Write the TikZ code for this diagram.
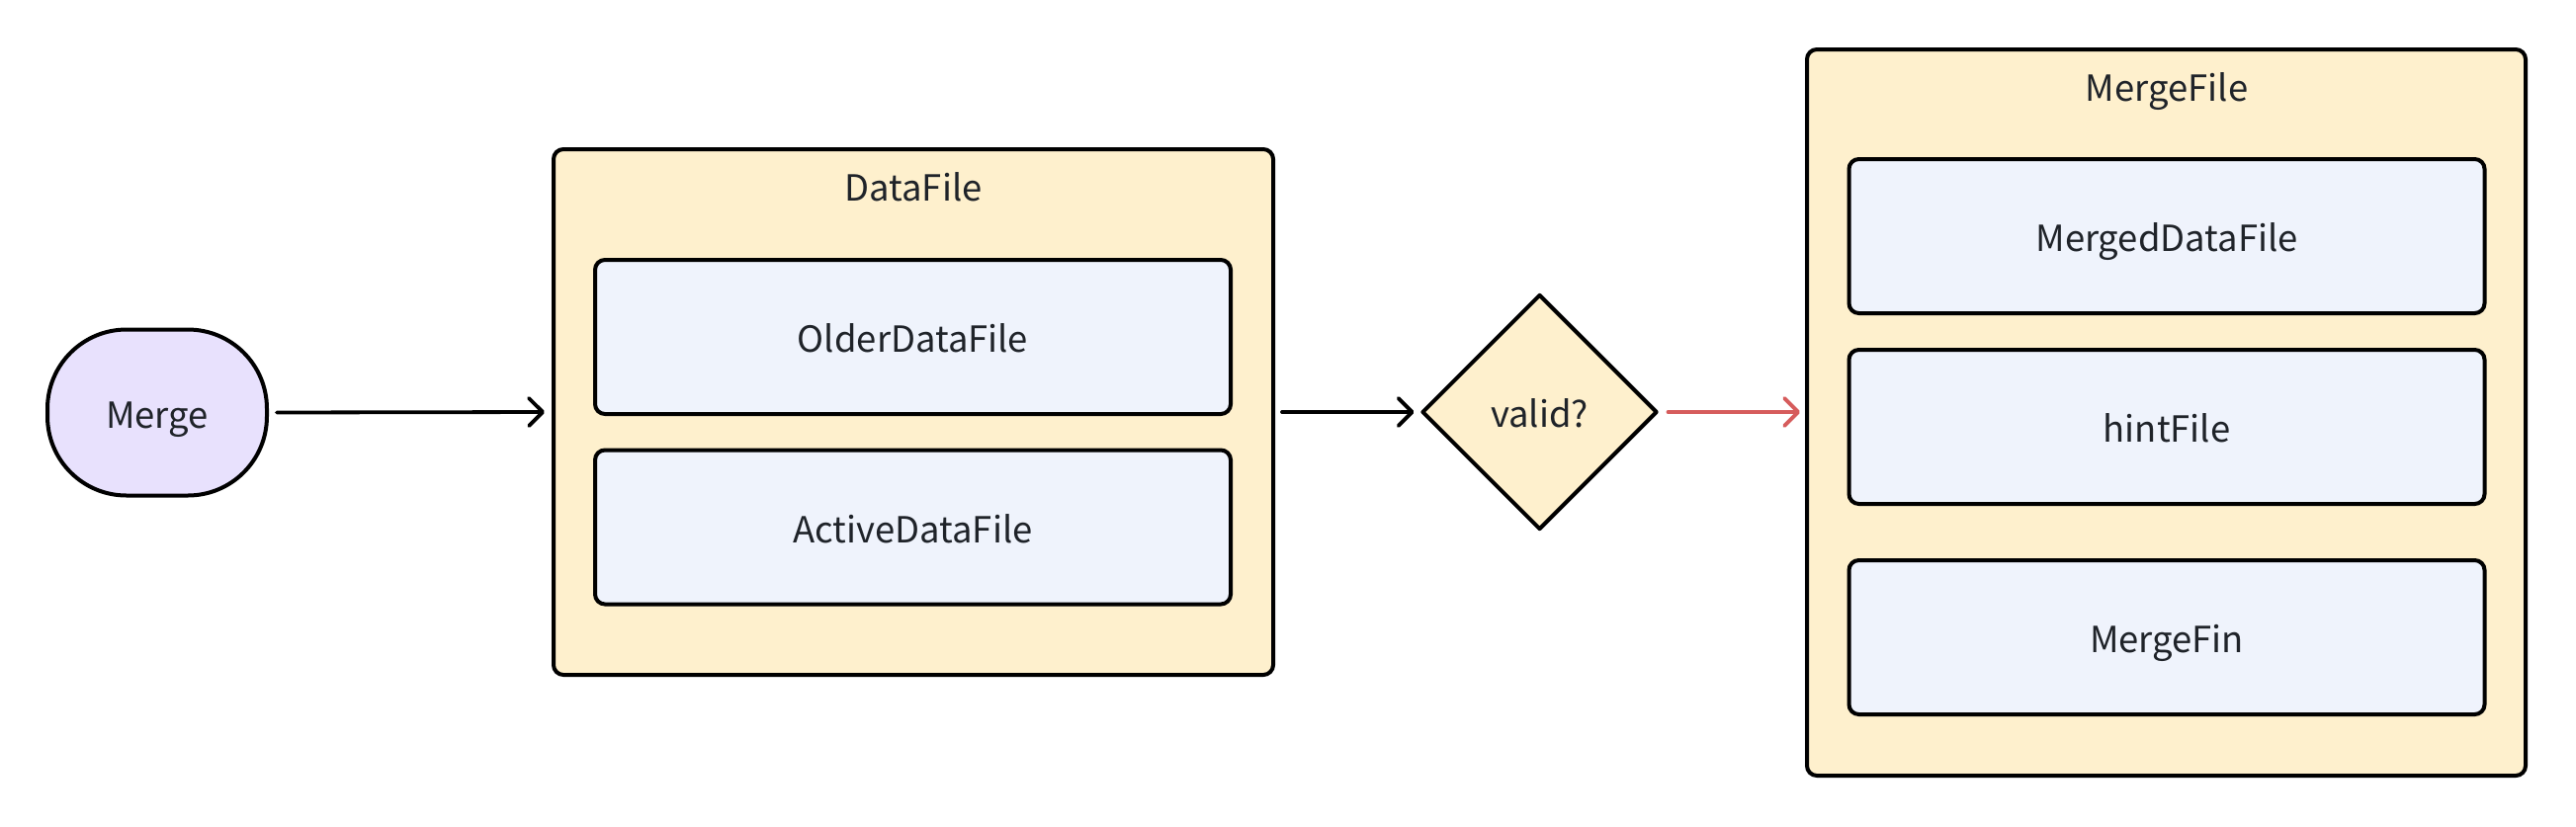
\documentclass[tikz,border=0pt]{standalone}
\usepackage{fontspec}
\setmainfont{Noto Sans CJK SC}
\usetikzlibrary{arrows.meta,shapes.geometric}
\definecolor{lav}{HTML}{E8E1FD}
\definecolor{ylw}{HTML}{FEF0CD}
\definecolor{blu}{HTML}{EFF3FC}
\definecolor{redar}{HTML}{D65C5C}
\definecolor{txt}{HTML}{1F2329}
\begin{document}
\begin{tikzpicture}[x=0.5pt,y=-0.5pt,
  every node/.style={text=txt,font=\fontsize{18.2pt}{22pt}\selectfont,text height=18.3pt,text depth=2.5pt},
  startbox/.style={draw=black,line width=2pt,fill=lav,rounded corners=40pt,minimum width=111pt,minimum height=84pt,inner sep=0pt},
  container/.style={draw=black,line width=2pt,fill=ylw,rounded corners=5pt,inner sep=0pt},
  inbox/.style={draw=black,line width=2pt,fill=blu,rounded corners=5pt,minimum width=321.5pt,minimum height=78pt,inner sep=0pt},
  decision/.style={diamond,draw=black,line width=2pt,fill=ylw,minimum width=119pt,minimum height=119pt,inner sep=0pt,line join=round},
  arr/.style={line width=1.9pt,-{Straight Barb[length=7pt,width=14pt,line cap=round,line join=round]},line cap=round}
]
\useasboundingbox (0,0) rectangle (2606,836);
\node[startbox] (merge) at (159,417.5) {Merge};
\node[container,minimum width=364pt,minimum height=266pt] (datafile) at (924,417) {};
\node (dftitle) at (924,188) {DataFile};
\node[inbox] (older) at (923.5,341) {OlderDataFile};
\node[inbox] (active) at (923.5,533.5) {ActiveDataFile};
\node[decision] (valid) at (1557.5,417) {valid?};
\node[container,minimum width=363.5pt,minimum height=367.5pt] (mergefile) at (2191.5,417.5) {};
\node (mftitle) at (2192,86.5) {MergeFile};
\node[inbox] (merged) at (2192,239) {MergedDataFile};
\node[inbox] (hint) at (2192,432) {hintFile};
\node[inbox] (fin) at (2192,645) {MergeFin};
\draw[arr,shorten <=4pt,shorten >=3.5pt] (merge.east) -- (datafile.west);
\draw[arr,shorten <=3.5pt,shorten >=3pt] (datafile.east) -- (valid.west);
\draw[arr,draw=redar,shorten <=4.5pt,shorten >=2.5pt] (valid.east) -- (mergefile.west |- valid.east);
\end{tikzpicture}
\end{document}
